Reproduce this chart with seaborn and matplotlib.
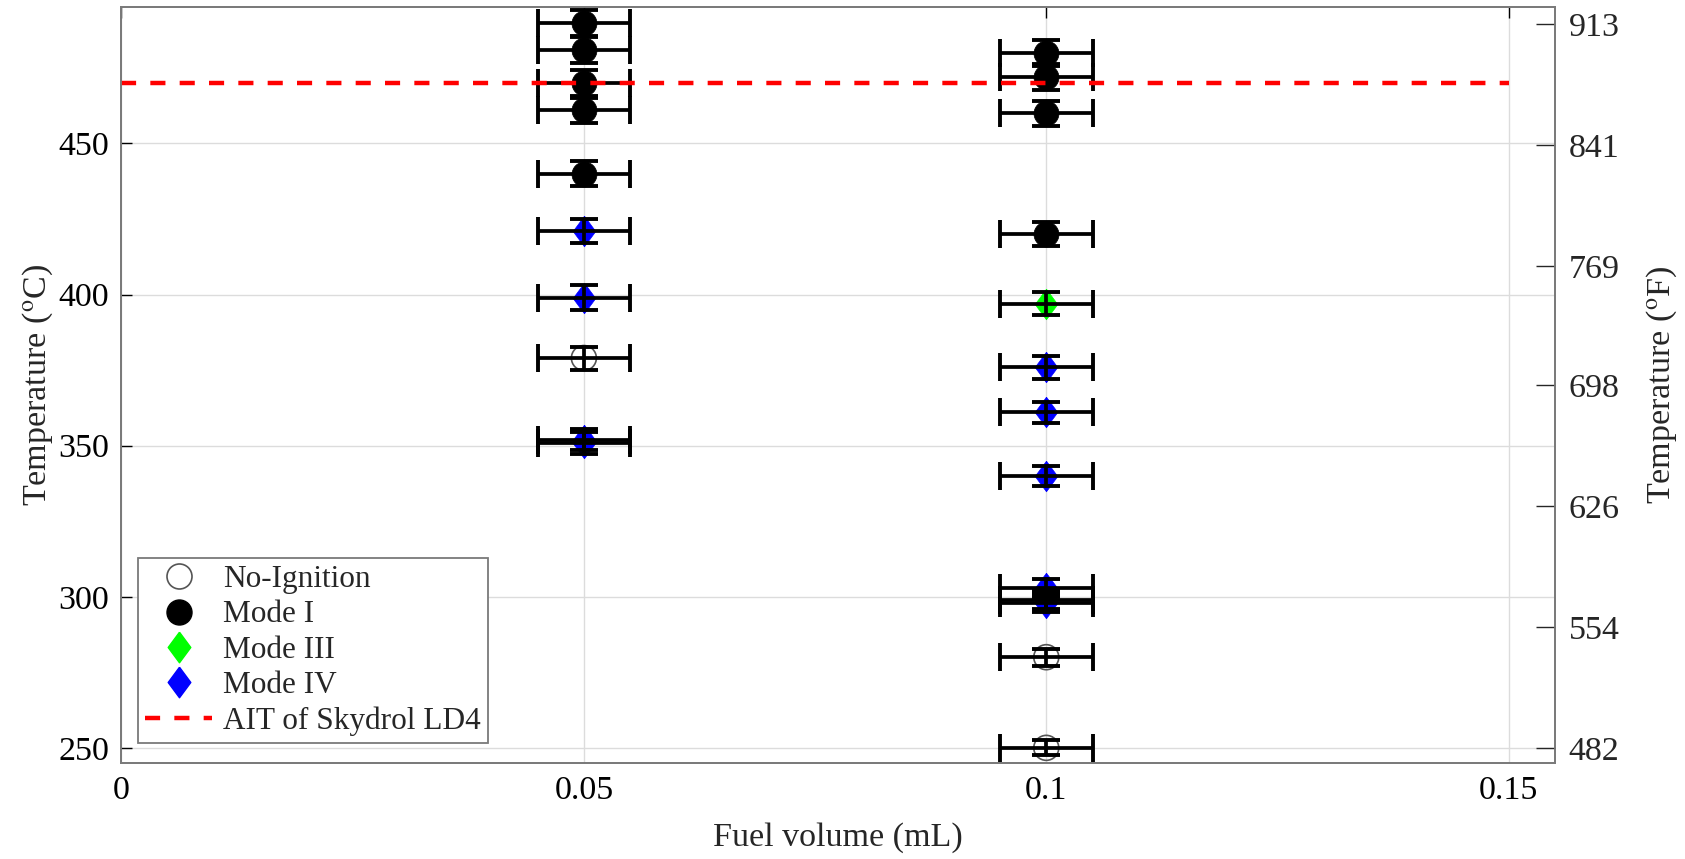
import numpy as np
import pandas as pd
import matplotlib
matplotlib.use("Agg")
import matplotlib.pyplot as plt
from matplotlib.lines import Line2D
import seaborn as sns

# ---------------- data ----------------
noign_x = [0.05, 0.10, 0.10]
noign_y = [379, 280, 250]
noign_yerr = [3.8, 2.8, 2.5]

mode1_x = [0.05, 0.05, 0.05, 0.05, 0.05, 0.10, 0.10, 0.10, 0.10]
mode1_y = [490, 481, 470, 461, 440, 480, 472, 460, 420]
mode1_yerr = [4.3, 4.3, 4.2, 4.2, 4.1, 4.3, 4.2, 4.2, 4.0]

mode3_x = [0.10]
mode3_y = [397]
mode3_yerr = [3.9]

mode4_x = [0.05, 0.05, 0.05, 0.05, 0.10, 0.10, 0.10, 0.10, 0.10, 0.10]
mode4_y = [421, 399, 352, 351, 376, 361, 340, 303, 299, 298]
mode4_yerr = [4.0, 4.0, 3.6, 3.6, 3.8, 3.6, 3.4, 3.0, 3.0, 3.0]

xerr_val = 0.005
ait_temp = 470
ait_x = [0.0, 0.15]

xticks = [0, 0.05, 0.1, 0.15]
xtick_labels = ["0", "0.05", "0.1", "0.15"]
yticks_c = [250, 300, 350, 400, 450]
yticks_f = [482, 554, 626, 698, 769, 841, 913]

# ---------------- style ----------------
sns.set_theme(style="white")
plt.rcParams["font.family"] = ["Liberation Serif", "DejaVu Serif"]
plt.rcParams["mathtext.fontset"] = "stix"

FS = 24.5
fig = plt.figure(figsize=(16.85, 8.59), dpi=100)
ax = fig.add_axes([0.0721, 0.1118, 0.8507, 0.8795])

diamond = [(0, 1), (0.74, 0), (0, -1), (-0.74, 0), (0, 1)]

df = pd.concat([
    pd.DataFrame({"x": noign_x, "y": noign_y, "yerr": noign_yerr, "mode": "No-Ignition"}),
    pd.DataFrame({"x": mode1_x, "y": mode1_y, "yerr": mode1_yerr, "mode": "Mode I"}),
    pd.DataFrame({"x": mode3_x, "y": mode3_y, "yerr": mode3_yerr, "mode": "Mode III"}),
    pd.DataFrame({"x": mode4_x, "y": mode4_y, "yerr": mode4_yerr, "mode": "Mode IV"}),
], ignore_index=True)

styles = {
    "No-Ignition": dict(marker="o", s=18 ** 2, facecolor="none", edgecolor="#555555", lw=1.2),
    "Mode I": dict(marker="o", s=18 ** 2, facecolor="black", edgecolor="black", lw=0.5),
    "Mode III": dict(marker=diamond, s=22 ** 2, facecolor="#00ff00", edgecolor="#00ff00", lw=0.5),
    "Mode IV": dict(marker=diamond, s=22 ** 2, facecolor="#0000ff", edgecolor="#0000ff", lw=0.5),
}

for mode, st in styles.items():
    sub = df[df["mode"] == mode]
    sns.scatterplot(data=sub, x="x", y="y", ax=ax, marker=st["marker"], s=st["s"],
                    color=st["facecolor"] if st["facecolor"] != "none" else "white",
                    facecolors=st["facecolor"], edgecolor=st["edgecolor"],
                    linewidth=st["lw"], zorder=3, legend=False)
    ax.errorbar(sub["x"], sub["y"], xerr=xerr_val, yerr=sub["yerr"], fmt="none",
                ecolor="black", elinewidth=2.7, capsize=9.8, capthick=2.8, zorder=4)

ax.plot(ait_x, [ait_temp, ait_temp], color="#ff0000", lw=3.2, dashes=(3.4, 3.2), zorder=5)

ax.set_xlim(0, 0.155)
ax.set_ylim(245, 495)
ax.set_xticks(xticks)
ax.set_xticklabels(xtick_labels)
ax.set_yticks(yticks_c)
ax.grid(True, color="#dcdcdc", lw=1.0)
ax.set_axisbelow(True)
ax.tick_params(axis="both", direction="in", length=8, width=1, colors="black",
               labelsize=FS, top=True, right=False, pad=9)
for sp in ax.spines.values():
    sp.set_color("#7a7a7a")
    sp.set_linewidth(1.3)
ax.set_xlabel("Fuel volume (mL)", fontsize=FS, labelpad=12)
ax.set_ylabel(r"Temperature ($^{\mathrm{o}}$C)", fontsize=FS, labelpad=2)

ax2 = ax.twinx()
ax2.set_ylim(245 * 9 / 5 + 32, 495 * 9 / 5 + 32)
ax2.set_yticks(yticks_f)
ax2.set_yticklabels([str(v) for v in yticks_f])
ax2.tick_params(axis="y", direction="in", length=14, width=1, labelsize=FS, pad=10)
ax2.grid(False)
for sp in ax2.spines.values():
    sp.set_color("#7a7a7a")
    sp.set_linewidth(1.3)
ax2.set_ylabel(r"Temperature ($^{\mathrm{o}}$F)", fontsize=FS, labelpad=18)

handles = [
    Line2D([], [], ls="none", marker="o", ms=18, mfc="white", mec="#555555", mew=1.2),
    Line2D([], [], ls="none", marker="o", ms=18, mfc="black", mec="black"),
    Line2D([], [], ls="none", marker=diamond, ms=22, mfc="#00ff00", mec="#00ff00"),
    Line2D([], [], ls="none", marker=diamond, ms=22, mfc="#0000ff", mec="#0000ff"),
    Line2D([], [], color="#ff0000", lw=3.2, dashes=(3.4, 3.2)),
]
labels = ["No-Ignition", "Mode I", "Mode III", "Mode IV", "AIT of Skydrol LD4"]
leg = ax.legend(handles, labels, loc="lower left", bbox_to_anchor=(0.0117, 0.027),
                fontsize=22.5, frameon=True, fancybox=False, edgecolor="#7a7a7a",
                framealpha=1, borderpad=0.22, labelspacing=0.2, handlelength=2.15,
                handletextpad=0.35, borderaxespad=0)
leg.get_frame().set_linewidth(1.3)

fig.savefig("out.png", dpi=100)
